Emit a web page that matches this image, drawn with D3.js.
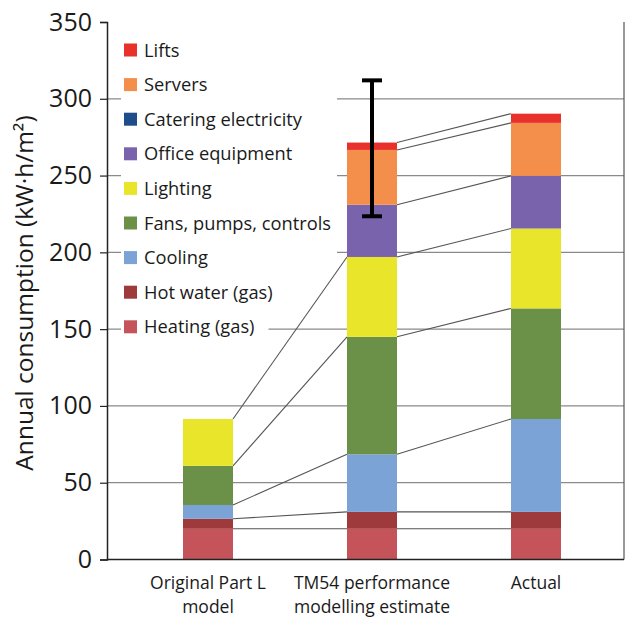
<!DOCTYPE html>
<html>
<head>
<meta charset="utf-8">
<script src="https://cdn.jsdelivr.net/npm/d3@7"></script>
<style>
  html, body { margin: 0; padding: 0; background: #fff; }
  svg { display: block; font-family: "Open Sans", sans-serif; }
</style>
</head>
<body>
<svg id="chart" width="628" height="617"></svg>
<script>
// ---- data ----
const categories = ["Original Part L model", "TM54 performance modelling estimate", "Actual"];
const categoryLines = [["Original Part L", "model"], ["TM54 performance", "modelling estimate"], ["Actual"]];
// series, bottom to top
const seriesNames = ["Heating (gas)", "Hot water (gas)", "Cooling", "Fans, pumps, controls", "Lighting",
                     "Office equipment", "Catering electricity", "Servers", "Lifts"];
const seriesColors = ["#c4545a", "#9e3a3c", "#7ca3d6", "#6a9147", "#e9e52a",
                      "#7a63ad", "#1f4d8a", "#f48f4b", "#e8312b"];
const heating   = [20, 20, 20];
const hotWater  = [6.5, 11, 11];
const cooling   = [9, 37.5, 60.5];
const fans      = [25.5, 76.5, 72];
const lighting  = [30.5, 52, 52];
const office    = [0, 34, 34.3];
const catering  = [0, 0, 0];
const servers   = [0, 35.7, 34.5];
const lifts     = [0, 4.8, 6];
const seriesValues = [heating, hotWater, cooling, fans, lighting, office, catering, servers, lifts];
const errLow  = [null, 223.5, null];
const errHigh = [null, 312, null];
const yTicks = [0, 50, 100, 150, 200, 250, 300, 350];
const yTitle = "Annual consumption (kW·h/m²)";

// ---- layout ----
const svg = d3.select("#chart");
const axisX = 107, rightX = 624, yTop = 22, yBottom = 559.5;
const y = d3.scaleLinear().domain([0, 350]).range([yBottom, yTop]);
const x = d3.scalePoint().domain(categories).range([208, 536]);
const barW = 50;

// gridlines
svg.append("g").selectAll("line").data(yTicks.filter(t => t > 0 && t < 350)).join("line")
  .attr("x1", axisX).attr("x2", rightX)
  .attr("y1", d => y(d)).attr("y2", d => y(d))
  .attr("stroke", "#8a8a8a").attr("stroke-width", 1.2);

// right frame
svg.append("line").attr("x1", rightX).attr("x2", rightX).attr("y1", y(350)).attr("y2", yBottom)
  .attr("stroke", "#555").attr("stroke-width", 1.2);

// legend background layer (hides gridlines only)
const legBg = svg.append("g");
legBg.append("rect").attr("x", 121).attr("y", 34).attr("width", 216).attr("height", 278).attr("fill", "#fff");

// stacked data
const stack = categories.map((c, i) => {
  let acc = 0;
  return seriesValues.map((s, k) => { const y0 = acc; acc += s[i]; return {cat: c, k, y0, y1: acc, v: s[i]}; });
});

// connector lines
const conn = svg.append("g");
for (let i = 0; i < categories.length - 1; i++) {
  seriesValues.forEach((s, k) => {
    if (s[i] > 0 && s[i + 1] > 0) {
      conn.append("line")
        .attr("x1", x(categories[i]) + barW / 2).attr("y1", y(stack[i][k].y1))
        .attr("x2", x(categories[i + 1]) - barW / 2).attr("y2", y(stack[i + 1][k].y1))
        .attr("stroke", "#555").attr("stroke-width", 1.1);
    }
  });
}

// bars
svg.append("g").selectAll("g").data(stack).join("g")
  .selectAll("rect").data(d => d.filter(e => e.v > 0)).join("rect")
  .attr("x", d => x(d.cat) - barW / 2).attr("width", barW)
  .attr("y", d => y(d.y1)).attr("height", d => y(d.y0) - y(d.y1))
  .attr("fill", d => seriesColors[d.k]);

// error bar
categories.forEach((c, i) => {
  if (errLow[i] == null) return;
  const g = svg.append("g").attr("stroke", "#000").attr("stroke-width", 4);
  g.append("line").attr("x1", x(c)).attr("x2", x(c)).attr("y1", y(errLow[i])).attr("y2", y(errHigh[i]));
  [errLow[i], errHigh[i]].forEach(v => g.append("line")
    .attr("x1", x(c) - 10).attr("x2", x(c) + 10).attr("y1", y(v)).attr("y2", y(v)));
});

// legend items
const leg = svg.append("g");
const legOrder = seriesNames.map((n, k) => k).reverse();
legOrder.forEach((k, r) => {
  const cy = 50 + r * 34.6;
  const bg = legBg.append("rect").attr("fill", "#fff");
  leg.append("rect").attr("x", 124).attr("y", cy - 6.5).attr("width", 13).attr("height", 13)
    .attr("fill", seriesColors[k]);
  const t = leg.append("text").attr("x", 144).attr("y", cy + 6.5).attr("font-size", 18.3)
    .attr("fill", "#1a1a1a").text(seriesNames[k]);
  const bb = t.node().getBBox();
  bg.attr("x", 121).attr("y", cy - 13).attr("width", bb.x + bb.width + 14 - 121).attr("height", 26);
});

// y axis
const yAxis = svg.append("g").attr("transform", `translate(${axisX},0)`)
  .call(d3.axisLeft(y).tickValues(yTicks).tickSize(7).tickPadding(8));
yAxis.select(".domain").attr("stroke", "#222").attr("stroke-width", 1.5);
yAxis.selectAll(".tick line").attr("stroke", "#222").attr("stroke-width", 1.2);
yAxis.selectAll(".tick text").attr("font-size", 25).attr("font-family", "Open Sans, sans-serif").attr("fill", "#1a1a1a");

// x baseline
svg.append("line").attr("x1", axisX).attr("x2", rightX).attr("y1", yBottom).attr("y2", yBottom)
  .attr("stroke", "#222").attr("stroke-width", 1.5);

// category labels (one text per line)
categories.forEach((c, i) => {
  categoryLines[i].forEach((line, j) => svg.append("text")
    .attr("text-anchor", "middle").attr("font-size", 17.5).attr("fill", "#1a1a1a")
    .attr("x", x(c)).attr("y", 589 + j * 24).text(line));
});

// y title
svg.append("text").attr("transform", `translate(33, 293) rotate(-90)`).attr("text-anchor", "middle")
  .attr("font-size", 24.5).attr("fill", "#1a1a1a").text(yTitle);
</script>
</body>
</html>
